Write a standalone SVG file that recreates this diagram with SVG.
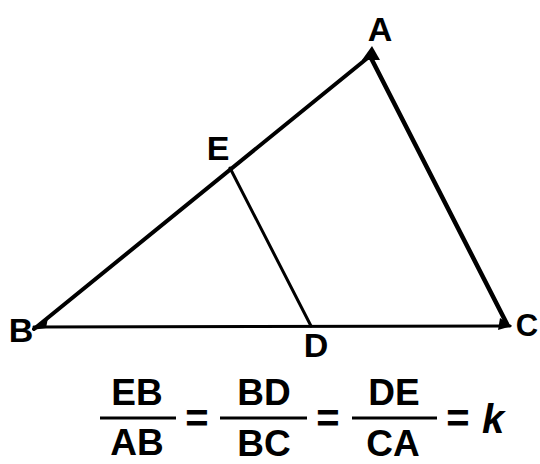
<svg xmlns="http://www.w3.org/2000/svg" width="540" height="464" viewBox="0 0 540 464">
<style>
.lbl{font-family:"Liberation Sans",Arial,sans-serif;font-weight:bold;fill:#000;text-anchor:middle}
.v{font-size:34px}
.f{font-size:37px}
.eq{font-size:40px}
.edge{stroke:#000;fill:none;stroke-linecap:round}
.bar{stroke:#000;stroke-width:3}
</style>
<rect width="540" height="464" fill="#fff"/>
<g id="connectors">
  <line class="edge" x1="34" y1="329" x2="370" y2="56" stroke-width="4"/>
  <line class="edge" x1="370" y1="56" x2="507" y2="324" stroke-width="4.5"/>
  <line class="edge" x1="34" y1="327" x2="510" y2="326" stroke-width="3"/>
  <line class="edge" x1="230" y1="168" x2="311" y2="326" stroke-width="3"/>
</g>
<g id="node-A">
  <polygon points="362,60 372,46 380,60" fill="#000"/>
  <text class="lbl v" x="380" y="41">A</text>
</g>
<g id="node-B">
  <polygon points="32,330 48,318 46,328" fill="#000"/>
  <text class="lbl v" x="21" y="342">B</text>
</g>
<g id="node-C">
  <polygon points="500,318 512,326 498,330" fill="#000"/>
  <text class="lbl" x="527" y="336" font-size="31">C</text>
</g>
<g id="node-D">
  <text class="lbl v" x="316" y="357">D</text>
</g>
<g id="node-E">
  <text class="lbl v" x="218" y="160">E</text>
</g>
<g id="formula">
  <text class="lbl f" x="137" y="405">EB</text>
  <line class="bar" x1="100" y1="418" x2="176" y2="418"/>
  <text class="lbl f" x="137" y="455">AB</text>
  <text class="lbl eq" x="197" y="432">=</text>
  <text class="lbl f" x="264" y="405">BD</text>
  <line class="bar" x1="220" y1="418" x2="307" y2="418"/>
  <text class="lbl f" x="264" y="456">BC</text>
  <text class="lbl eq" x="328" y="432">=</text>
  <text class="lbl f" x="394" y="405">DE</text>
  <line class="bar" x1="352" y1="418" x2="437" y2="418"/>
  <text class="lbl f" x="393" y="456">CA</text>
  <text class="lbl eq" x="458" y="432">=</text>
  <text class="lbl eq" x="493" y="433" font-style="italic">k</text>
</g>
</svg>
